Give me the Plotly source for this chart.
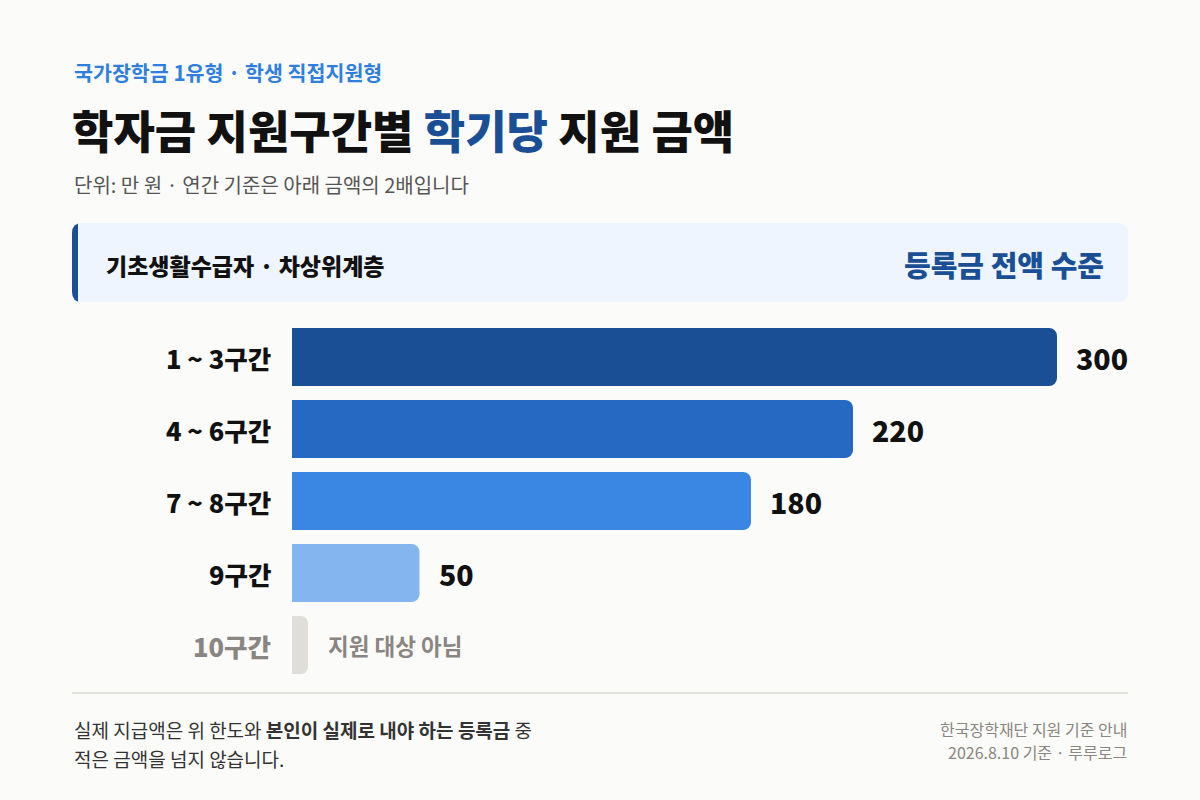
import plotly.graph_objects as go

# ---- data ----
categories = ["1 ~ 3구간", "4 ~ 6구간", "7 ~ 8구간", "9구간", "10구간"]
amounts = [300, 220, 180, 50, None]          # 만 원, 학기당 (10구간: 지원 대상 아님)
value_labels = ["300", "220", "180", "50", "지원 대상 아님"]
bar_colors = ["#1a4f96", "#2669c2", "#3a87e3", "#85b5ef"]

kicker = "국가장학금 1유형 · 학생 직접지원형"
title_a, title_hl, title_b = "학자금 지원구간별 ", "학기당", " 지원 금액"
subtitle = "단위: 만 원 · 연간 기준은 아래 금액의 2배입니다"
panel_left = "기초생활수급자 · 차상위계층"
panel_right = "등록금 전액 수준"
foot_left_1 = "실제 지급액은 위 한도와 <b>본인이 실제로 내야 하는 등록금</b> 중"
foot_left_2 = "적은 금액을 넘지 않습니다."
foot_right_1 = "한국장학재단 지원 기준 안내"
foot_right_2 = "2026.8.10 기준 · 루루로그"

# ---- layout constants ----
W, H = 1200, 800
FONT = "Noto Sans CJK KR"
BG = "#fbfbf9"
DARK = "#1a4f96"
X0, X1 = 292, 1128          # plot area in px
PX_PER_UNIT = 2.55
Y_TOP, Y_BOT = 321, 681
STUB_PX = 16


def px(x):
    return x / W


def py(y):
    return 1 - y / H


def rrect(x0, y0, x1, y1, r_left, r_right):
    X = px
    Y = py
    p = f"M {X(x0 + r_left)} {Y(y0)} L {X(x1 - r_right)} {Y(y0)} "
    p += f"Q {X(x1)} {Y(y0)} {X(x1)} {Y(y0 + r_right)} "
    p += f"L {X(x1)} {Y(y1 - r_right)} Q {X(x1)} {Y(y1)} {X(x1 - r_right)} {Y(y1)} "
    p += f"L {X(x0 + r_left)} {Y(y1)} Q {X(x0)} {Y(y1)} {X(x0)} {Y(y1 - r_left)} "
    p += f"L {X(x0)} {Y(y0 + r_left)} Q {X(x0)} {Y(y0)} {X(x0 + r_left)} {Y(y0)} Z"
    return p


x_max = (X1 - X0) / PX_PER_UNIT

fig = go.Figure()
supported = [(c, v, col) for c, v, col in zip(categories, amounts, bar_colors + [None]) if v is not None]
fig.add_trace(go.Bar(
    y=[s[0] for s in supported], x=[s[1] for s in supported], orientation="h",
    marker=dict(color=[s[2] for s in supported], cornerradius=8, line=dict(width=0)),
    width=0.806, hoverinfo="skip",
))
# stub for the category that receives no support
fig.add_trace(go.Bar(
    y=[categories[4]], x=[STUB_PX / PX_PER_UNIT], orientation="h",
    marker=dict(color="#dfded8", cornerradius=7, line=dict(width=0)),
    width=0.806, hoverinfo="skip",
))

annotations = []
# category labels
for i, c in enumerate(categories):
    annotations.append(dict(
        x=px(273), xref="paper", xanchor="right", y=c, yref="y", yanchor="middle",
        text=c, showarrow=False,
        font=dict(family=FONT, size=25.5, weight=800,
                  color="#8a8580" if amounts[i] is None else "#111111"),
    ))
# value labels
for i, c in enumerate(categories):
    if amounts[i] is not None:
        annotations.append(dict(
            x=amounts[i], xref="x", xanchor="left", xshift=17, y=c, yref="y", yanchor="middle",
            text=value_labels[i], showarrow=False,
            font=dict(family=FONT, size=28.5, weight=800, color="#111111"),
        ))
    else:
        annotations.append(dict(
            x=STUB_PX / PX_PER_UNIT, xref="x", xanchor="left", xshift=18, y=c, yref="y", yanchor="middle",
            text=value_labels[i], showarrow=False,
            font=dict(family=FONT, size=22.5, weight=700, color="#8a8580"),
        ))

# header texts
annotations += [
    dict(x=px(72), y=py(72), xref="paper", yref="paper", xanchor="left", yanchor="middle",
         text=kicker, showarrow=False,
         font=dict(family=FONT, size=20.6, weight=700, color="#2f7fe0")),
    dict(x=px(70), y=py(130), xref="paper", yref="paper", xanchor="left", yanchor="middle",
         text=f"{title_a}<span style='color:{DARK}'>{title_hl}</span>{title_b}", showarrow=False,
         font=dict(family=FONT, size=45, weight=900, color="#111111")),
    dict(x=px(72), y=py(185), xref="paper", yref="paper", xanchor="left", yanchor="middle",
         text=subtitle, showarrow=False, font=dict(family=FONT, size=20, color="#555555")),
    dict(x=px(104), y=py(265), xref="paper", yref="paper", xanchor="left", yanchor="middle",
         text=panel_left, showarrow=False,
         font=dict(family=FONT, size=23, weight=800, color="#111111")),
    dict(x=px(1106), y=py(264), xref="paper", yref="paper", xanchor="right", yanchor="middle",
         text=panel_right, showarrow=False,
         font=dict(family=FONT, size=29, weight=800, color=DARK)),
    dict(x=px(72), y=py(729), xref="paper", yref="paper", xanchor="left", yanchor="middle",
         text=foot_left_1, showarrow=False, font=dict(family=FONT, size=19, color="#333333")),
    dict(x=px(72), y=py(758), xref="paper", yref="paper", xanchor="left", yanchor="middle",
         text=foot_left_2, showarrow=False, font=dict(family=FONT, size=19, color="#333333")),
    dict(x=px(1129), y=py(729), xref="paper", yref="paper", xanchor="right", yanchor="middle",
         text=foot_right_1, showarrow=False, font=dict(family=FONT, size=16, color="#8a8680")),
    dict(x=px(1129), y=py(752), xref="paper", yref="paper", xanchor="right", yanchor="middle",
         text=foot_right_2, showarrow=False, font=dict(family=FONT, size=16, color="#8a8680")),
]

shapes = [
    dict(type="path", xref="paper", yref="paper", path=rrect(72, 223, 100, 302, 10, 0),
         fillcolor=DARK, line=dict(width=0), layer="below"),
    dict(type="path", xref="paper", yref="paper", path=rrect(78, 223, 1128, 302, 0, 10),
         fillcolor="#eef5ff", line=dict(width=0), layer="below"),
    dict(type="line", xref="paper", yref="paper", x0=px(72), x1=px(1128), y0=py(693), y1=py(693),
         line=dict(color="#e2e1dc", width=2)),
]

fig.update_layout(
    width=W, height=H, margin=dict(l=0, r=0, t=0, b=0),
    paper_bgcolor=BG, plot_bgcolor=BG, showlegend=False, barmode="overlay",
    font=dict(family=FONT),
    xaxis=dict(domain=[px(X0), px(X1)], range=[0, x_max], visible=False, fixedrange=True),
    yaxis=dict(domain=[py(Y_BOT), py(Y_TOP)], categoryorder="array", categoryarray=categories,
               range=[len(categories) - 0.5, -0.5], visible=False, fixedrange=True),
    annotations=annotations, shapes=shapes,
)

fig.write_html(
    "out.html",
    config={"displayModeBar": False},
    post_script="document.body.style.margin='0';document.body.style.background='#fbfbf9';",
)
